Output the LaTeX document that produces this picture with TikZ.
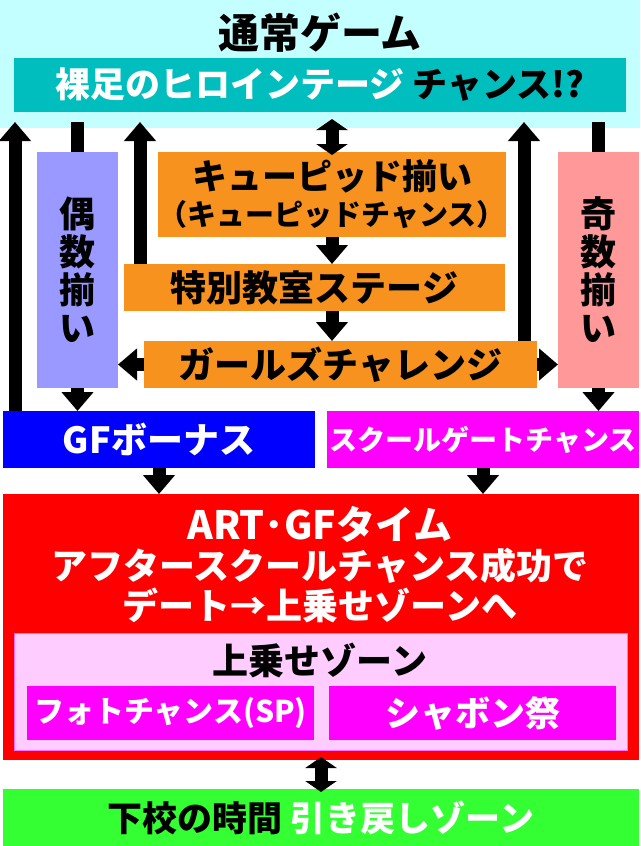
\documentclass[tikz,border=0pt]{standalone}
\usepackage{fontspec}
\setmainfont{Noto Sans CJK JP}
\usepackage{xcolor}
\usepackage{tikz}
\usetikzlibrary{arrows.meta, positioning}

\definecolor{skyback}{RGB}{196,255,255}
\definecolor{tealbar}{RGB}{0,190,190}
\definecolor{stageorange}{RGB}{247,146,30}
\definecolor{evenblue}{RGB}{153,153,255}
\definecolor{oddpink}{RGB}{255,153,153}
\definecolor{bonusblue}{RGB}{0,0,255}
\definecolor{gatemag}{RGB}{255,0,255}
\definecolor{artred}{RGB}{255,0,0}
\definecolor{zonepink}{RGB}{255,204,255}
\definecolor{zoneline}{RGB}{255,110,255}
\definecolor{homegreen}{RGB}{51,255,51}

\newcommand{\jpfont}[2]{\bfseries\fontsize{#1}{#2}\selectfont}

\tikzset{
  flow/.style={line width=13pt, -{Triangle[width=31pt,length=19pt]}},
  twoway/.style={line width=13pt, {Triangle[width=31pt,length=11pt]}-{Triangle[width=31pt,length=11pt]},
    shorten >=-3pt, shorten <=-3pt},
  bar/.style={line width=13pt}
}

\begin{document}
\begin{tikzpicture}[x=1pt,y=-1pt]
        \useasboundingbox (0,0) rectangle (640,846);
        \begin{scope}[every node/.style={inner sep=0pt,outer sep=0pt,align=center}]
          % normal game
          \node[fill=skyback,minimum width=640pt,minimum height=128pt] (normal) at (320,64) {};
          \node[font=\jpfont{41}{44}] (normalTitle) at (320,33) {通常ゲーム};
          \node[fill=tealbar,minimum width=612pt,minimum height=54pt,font=\jpfont{35}{40}] (heroine) at (320,85)
            {\textcolor{white}{裸足のヒロインテージ}\hspace{8pt}チャンス!?};
          % stages
          \node[fill=stageorange,minimum width=346pt,minimum height=85pt,font=\jpfont{35}{36}] (cupid) at (332,194.5)
            {キューピッド揃い\\{\fontsize{29}{36}\selectfont （キューピッドチャンス）}};
          \node[fill=stageorange,minimum width=381pt,minimum height=47pt,font=\jpfont{36}{40}] (special) at (314.5,287.5) {特別教室ステージ};
          \node[fill=stageorange,minimum width=393pt,minimum height=47pt,font=\jpfont{36}{40}] (girls) at (340.5,364.5) {ガールズチャレンジ};
          \node[fill=evenblue,minimum width=81pt,minimum height=236pt,font=\jpfont{36}{38}] (even) at (77.5,270) {偶\\数\\揃\\い};
          \node[fill=oddpink,minimum width=81pt,minimum height=236pt,font=\jpfont{36}{38}] (odd) at (598.5,270) {奇\\数\\揃\\い};
          % bonuses
          \node[fill=bonusblue,text=white,minimum width=312pt,minimum height=57pt,font=\jpfont{36}{40}] (bonus) at (159,439.5) {GFボーナス};
          \node[fill=gatemag,text=white,minimum width=312pt,minimum height=57pt,font=\jpfont{28}{34}] (gate) at (483,439.5) {スクールゲートチャンス};
          % ART
          \node[fill=artred,minimum width=636pt,minimum height=266pt] (art) at (321,627) {};
          \node[text=white,font=\jpfont{36}{40}] (artText) at (320,565)
            {{\fontsize{39}{44}\selectfont ART･GFタイム}\\アフタースクールチャンス成功で\\デート→上乗せゾーンへ};
          \node[fill=zonepink,draw=zoneline,line width=1pt,minimum width=613pt,minimum height=117pt] (ride) at (320.5,691.5) {};
          \node[font=\jpfont{36}{40}] (rideTitle) at (320,660) {上乗せゾーン};
          \node[fill=gatemag,text=white,minimum width=287pt,minimum height=54pt,font=\jpfont{30}{34}] (photo) at (170.5,713) {フォトチャンス(SP)};
          \node[fill=gatemag,text=white,minimum width=287pt,minimum height=54pt,font=\jpfont{35}{38}] (bubble) at (472.5,713) {シャボン祭};
          % after school
          \node[fill=homegreen,minimum width=636pt,minimum height=57pt,font=\jpfont{35}{38}] (home) at (321,817.5)
            {下校の時間\hspace{8pt}\textcolor{white}{引き戻しゾーン}};
        \end{scope}
        \coordinate (rim) at (0,122);
        \coordinate (colA) at (15,0);
        \coordinate (colB) at (140,0);
        \coordinate (colC) at (524,0);
        \begin{scope}
          \draw[flow] (colA |- bonus.north) -- (colA |- rim);
          \draw[bar] (even.north) -- (even.north |- rim);
          \draw[flow] (colB |- special.north) -- (colB |- rim);
          \draw[twoway] (cupid.north) -- (cupid.north |- rim);
          \draw[flow] (colC |- girls.north) -- (colC |- rim);
          \draw[bar] (odd.north) -- (odd.north |- rim);
          \draw[flow] (cupid.south) -- (cupid.south |- special.north);
          \draw[flow] (cupid.south |- special.south) -- (cupid.south |- girls.north);
          \draw[flow] (girls.west) -- (girls.west -| even.east);
          \draw[flow] (girls.east) -- (girls.east -| odd.west);
          \draw[flow] (even.south) -- (even.south |- bonus.north);
          \draw[flow] (odd.south) -- (odd.south |- gate.north);
          \draw[flow] (bonus.south) -- (bonus.south |- art.north);
          \draw[flow] (gate.south) -- (gate.south |- art.north);
          \draw[twoway] (art.south) -- (home.north);
        \end{scope}
      \end{tikzpicture}
\end{document}
